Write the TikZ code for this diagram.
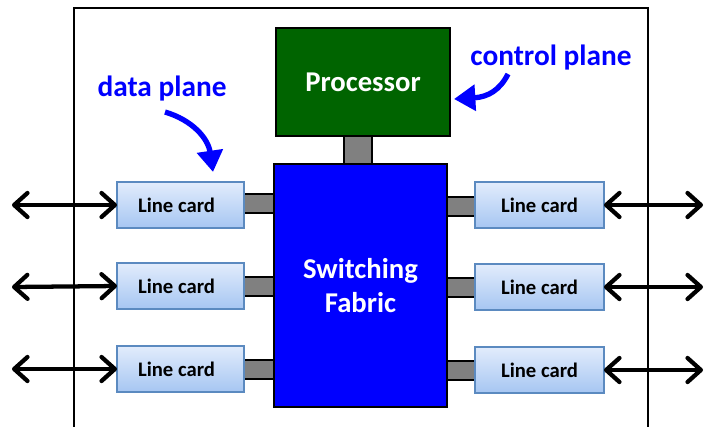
\documentclass[tikz,border=0pt]{standalone}
\usepackage{fontspec}
\setmainfont{Carlito}
\usetikzlibrary{arrows.meta}
\definecolor{procgreen}{HTML}{006400}
\definecolor{fabblue}{HTML}{0000FF}
\definecolor{cardtop}{HTML}{E2ECFC}
\definecolor{cardbot}{HTML}{A6C6F2}
\definecolor{cardedge}{HTML}{5B8AC0}
\definecolor{connfill}{HTML}{808080}
\tikzset{
  bigbox/.style={draw=black, line width=1.5pt, inner sep=0pt, outer sep=0pt, text=white, font=\bfseries\fontsize{21.5}{25}\selectfont, align=center},
  card/.style={draw=cardedge, line width=1.2pt, top color=cardtop, bottom color=cardbot, inner sep=0pt, outer sep=0pt, font=\bfseries\fontsize{15.5}{18}\selectfont, minimum height=34.5pt},
  conn/.style={draw=black, fill=connfill, line width=1.5pt, inner sep=0pt, outer sep=0pt},
  dblarrow/.style={line width=3.2pt, {Straight Barb[length=10pt,width=18pt,round]}-{Straight Barb[length=10pt,width=18pt,round]}},
  bluearrow/.style={draw=fabblue, line width=4pt, -{Triangle[length=16pt,width=19pt]}},
  planelabel/.style={text=fabblue, font=\bfseries\fontsize{22}{26}\selectfont}
}
\newcommand{\lcl}{\hspace*{-6pt}\raisebox{-3pt}{Line card}}
\newcommand{\lcr}{\raisebox{-3pt}{Line card}}
\begin{document}
\begin{tikzpicture}[x=0.75pt,y=-0.75pt]
\useasboundingbox (0,0) rectangle (706,426);
% outer chassis
\coordinate (cbl) at (74,430);
\coordinate (ctl) at (74,8);
\coordinate (ctr) at (648,8);
\coordinate (cbr) at (648,430);
\draw[line width=1.5pt] (cbl) -- (ctl) -- (ctr) -- (cbr);
% connectors
\node[conn, minimum width=21pt, minimum height=21pt] (cpf) at (358,150) {};
\node[conn, minimum width=22.5pt, minimum height=14.25pt] (cl1) at (259,203) {};
\node[conn, minimum width=22.5pt, minimum height=14.25pt] (cl2) at (259,286) {};
\node[conn, minimum width=22.5pt, minimum height=14.25pt] (cl3) at (259,369) {};
\node[conn, minimum width=22.5pt, minimum height=14.25pt] (cr1) at (462,206) {};
\node[conn, minimum width=22.5pt, minimum height=14.25pt] (cr2) at (462,287) {};
\node[conn, minimum width=22.5pt, minimum height=14.25pt] (cr3) at (462,370) {};
% main boxes
\node[bigbox, fill=procgreen, minimum width=130.5pt, minimum height=81pt] (proc) at (363,82) {\raisebox{-2pt}{Processor}};
\node[bigbox, fill=fabblue, minimum width=129.75pt, minimum height=182.25pt] (fab) at (360.5,285.5) {Switching\\Fabric};
% line cards
\node[card, minimum width=95.25pt] (l1) at (180.5,205) {\lcl};
\node[card, minimum width=95.25pt] (l2) at (180.5,286) {\lcl};
\node[card, minimum width=95.25pt] (l3) at (180.5,369) {\lcl};
\node[card, minimum width=96.75pt] (r1) at (539.5,205) {\lcr};
\node[card, minimum width=96.75pt] (r2) at (539.5,287) {\lcr};
\node[card, minimum width=96.75pt] (r3) at (539.5,370) {\lcr};
% external links
\coordinate (el1) at (12,205);
\coordinate (el2) at (12,287);
\coordinate (el3) at (12,369);
\coordinate (er1) at (703,205);
\coordinate (er2) at (703,287);
\coordinate (er3) at (703,370);
\draw[dblarrow] (el1) -- (l1.west);
\draw[dblarrow] (el2) -- (l2.west);
\draw[dblarrow] (el3) -- (l3.west);
\draw[dblarrow] (r1.east) -- (er1);
\draw[dblarrow] (r2.east) -- (er2);
\draw[dblarrow] (r3.east) -- (er3);
% labels
\node[planelabel] (dp) at (162,89) {data plane};
\node[planelabel] (cp) at (551,58) {control plane};
\coordinate (dpstart) at (165,112);
\coordinate (dptip) at (213,172);
\coordinate (cpstart) at (508,74);
\coordinate (cptip) at (454,99);
\draw[bluearrow] (dpstart) .. controls (192,120) and (208,138) .. (dptip);
\draw[bluearrow] (cpstart) .. controls (500,90) and (488,97) .. (cptip);
\end{tikzpicture}
\end{document}
